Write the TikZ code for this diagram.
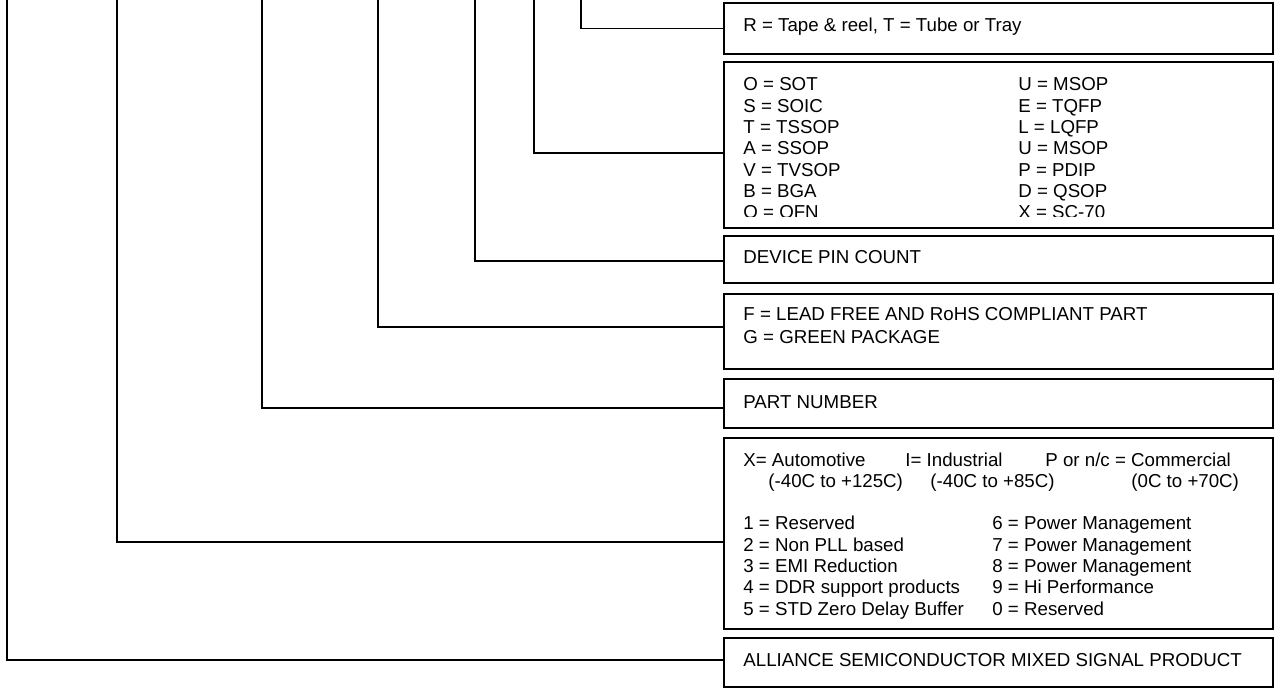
\documentclass[tikz,border=0pt]{standalone}
\usepackage{fontspec}
\setmainfont{Liberation Sans}
\usepackage{tikz}
\tikzset{box/.style = {shape = rectangle, draw, line width = 0.75pt, minimum width = 274.5pt, inner sep = 0pt}}
\tikzset{link/.style = {-, line width = 0.7pt}}
\tikzset{txt/.style = {anchor = base west, inner sep = 0pt, font = \fontsize{9.35}{10.65}\selectfont}}

\begin{document}
\begin{tikzpicture}[x = 0.5pt, y = -0.5pt]
	\useasboundingbox (0, 0) rectangle (1275, 688);

	% boxes
	\node[box, minimum height = 25.5pt] (tape) at (998.5, 28.5) {};
	\node[box, minimum height = 83pt] (pkg) at (998.5, 145) {};
	\node[box, minimum height = 23.5pt] (pins) at (998.5, 259.5) {};
	\node[box, minimum height = 37.5pt] (lead) at (998.5, 331.5) {};
	\node[box, minimum height = 24.5pt] (part) at (998.5, 403.5) {};
	\node[box, minimum height = 95.5pt] (temp) at (998.5, 533.5) {};
	\node[box, minimum height = 24.5pt] (brand) at (998.5, 662.5) {};

	% texts
	\node[txt] (tapetxt) at (743, 32) {R = Tape \& reel, T = Tube or Tray};
	\begin{scope}
		\clip (724, 62) rectangle (1273, 216.5);
		\node[txt] (pkgleft) at (743, 91) {\begin{tabular}[t]{@{}l@{}}O = SOT\\ S = SOIC\\ T = TSSOP\\ A = SSOP\\ V = TVSOP\\ B = BGA\\ Q = QFN\end{tabular}};
		\node[txt] (pkgright) at (1018, 91) {\begin{tabular}[t]{@{}l@{}}U = MSOP\\ E = TQFP\\ L = LQFP\\ U = MSOP\\ P = PDIP\\ D = QSOP\\ X = SC-70\end{tabular}};
	\end{scope}
	\node[txt] (pinstxt) at (743, 264) {DEVICE PIN COUNT};
	\node[txt] (leadtxt) at (743, 321) {\begin{tabular}[t]{@{}l@{}}F = LEAD FREE AND RoHS COMPLIANT PART\\[0.85pt] G = GREEN PACKAGE\end{tabular}};
	\node[txt] (parttxt) at (743, 409) {PART NUMBER};
	\node[txt] (auto) at (743, 467) {X= Automotive};
	\node[txt] (indu) at (905, 467) {I= Industrial};
	\node[txt] (comm) at (1045, 467) {P or n/c = Commercial};
	\node[txt] (autorange) at (768, 488) {(-40C to +125C)};
	\node[txt] (indurange) at (930, 488) {(-40C to +85C)};
	\node[txt] (commrange) at (1131, 488) {(0C to +70C)};
	\node[txt] (famleft) at (743, 530) {\begin{tabular}[t]{@{}l@{}}1 = Reserved\\ 2 = Non PLL based\\ 3 = EMI Reduction\\ 4 = DDR support products\\ 5 = STD Zero Delay Buffer\end{tabular}};
	\node[txt] (famright) at (992, 530) {\begin{tabular}[t]{@{}l@{}}6 = Power Management\\ 7 = Power Management\\ 8 = Power Management\\ 9 = Hi Performance\\ 0 = Reserved\end{tabular}};
	\node[txt] (brandtxt) at (743, 667) {ALLIANCE SEMICONDUCTOR MIXED SIGNAL PRODUCT};

	% connectors
	\coordinate (tapetop) at (581, 0);
	\coordinate (pkgtop) at (534, 0);
	\coordinate (pinstop) at (475, 0);
	\coordinate (leadtop) at (378, 0);
	\coordinate (parttop) at (262, 0);
	\coordinate (temptop) at (117, 0);
	\coordinate (brandtop) at (7, 0);

	\draw[link] (tapetop) |- (tape.west);
	\draw[link] (pkgtop) |- ([yshift = -4pt]pkg.west);
	\draw[link] (pinstop) |- ([yshift = -0.75pt]pins.west);
	\draw[link] (leadtop) |- ([yshift = 2.25pt]lead.west);
	\draw[link] (parttop) |- ([yshift = -2.25pt]part.west);
	\draw[link] (temptop) |- ([yshift = -4.25pt]temp.west);
	\draw[link] (brandtop) |- ([yshift = 1.25pt]brand.west);
\end{tikzpicture}
\end{document}
